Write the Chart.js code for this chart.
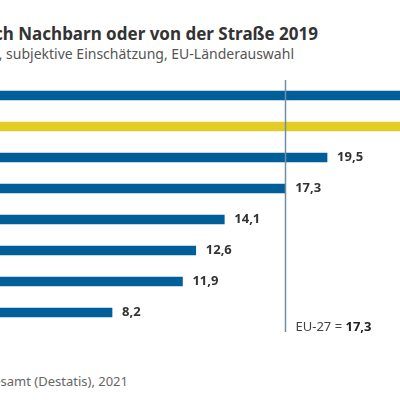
<!DOCTYPE html>
<html><head><meta charset="utf-8">
<script src="https://cdn.jsdelivr.net/npm/chart.js@4"></script>
<style>
body{margin:0;width:400px;height:400px;overflow:hidden;position:relative;background:#fff;font-family:"Noto Sans",sans-serif}
.t{position:absolute;white-space:nowrap;text-align:right}
#title{right:82px;top:22px;font-size:17px;font-weight:bold;color:#333}
#sub{right:106px;top:44px;font-size:14px;color:#555}
#src{right:272px;top:372px;font-size:13px;color:#666}
#wrap{position:absolute;left:-44px;top:60px;width:560px;height:300px}
</style></head><body>
<div class="t" id="title">Lärmbelästigung durch Nachbarn oder von der Straße 2019</div>
<div class="t" id="sub">In % der Bevölkerung, subjektive Einschätzung, EU-Länderauswahl</div>
<div class="t" id="src">Quelle: Statistisches Bundesamt (Destatis), 2021</div>
<div id="wrap"><canvas id="c"></canvas></div>
<script>
const countries = ['Malta','Deutschland','Niederlande','Frankreich','Österreich','Italien','Polen','Schweden'];
const values = [26.6, 26.1, 19.5, 17.3, 14.1, 12.6, 11.9, 8.2];
const colors = ['#005f99','#e3cd24','#005f99','#005f99','#005f99','#005f99','#005f99','#005f99'];
const euAvg = 17.3;

const fmt = v => v.toFixed(1).replace('.', ',');

const extras = {
  id: 'extras',
  afterDatasetsDraw(chart) {
    const ctx = chart.ctx;
    const x = chart.scales.x;
    const meta = chart.getDatasetMeta(0);
    ctx.save();
    ctx.font = 'bold 13px "Noto Sans"';
    ctx.fillStyle = '#333';
    ctx.textBaseline = 'middle';
    meta.data.forEach((bar, i) => ctx.fillText(fmt(values[i]), bar.x + 10, bar.y));
    const lx = Math.round(x.getPixelForValue(euAvg)) + 0.5;
    ctx.strokeStyle = '#6f8fa8';
    ctx.lineWidth = 1.5;
    ctx.beginPath(); ctx.moveTo(lx, 20); ctx.lineTo(lx, 272); ctx.stroke();
    ctx.textBaseline = 'alphabetic';
    ctx.font = '13px "Noto Sans"';
    ctx.fillStyle = '#444';
    const a = 'EU-27 = ';
    ctx.fillText(a, lx + 10, 271);
    const w = ctx.measureText(a).width;
    ctx.font = 'bold 13px "Noto Sans"';
    ctx.fillStyle = '#222';
    ctx.fillText(fmt(euAvg), lx + 10 + w, 271);
    ctx.restore();
  }
};

new Chart(document.getElementById('c'), {
  type: 'bar',
  data: { labels: countries, datasets: [{ data: values, backgroundColor: colors, barThickness: 9 }] },
  options: {
    indexAxis: 'y', responsive: true, maintainAspectRatio: false, animation: false,
    layout: { padding: { top: 20, bottom: 32, left: 0, right: 0 } },
    plugins: { legend: { display: false }, tooltip: { enabled: false } },
    scales: {
      x: { display: false, min: 0, max: 29.43 },
      y: { display: false }
    }
  },
  plugins: [extras]
});
</script>
</body></html>
